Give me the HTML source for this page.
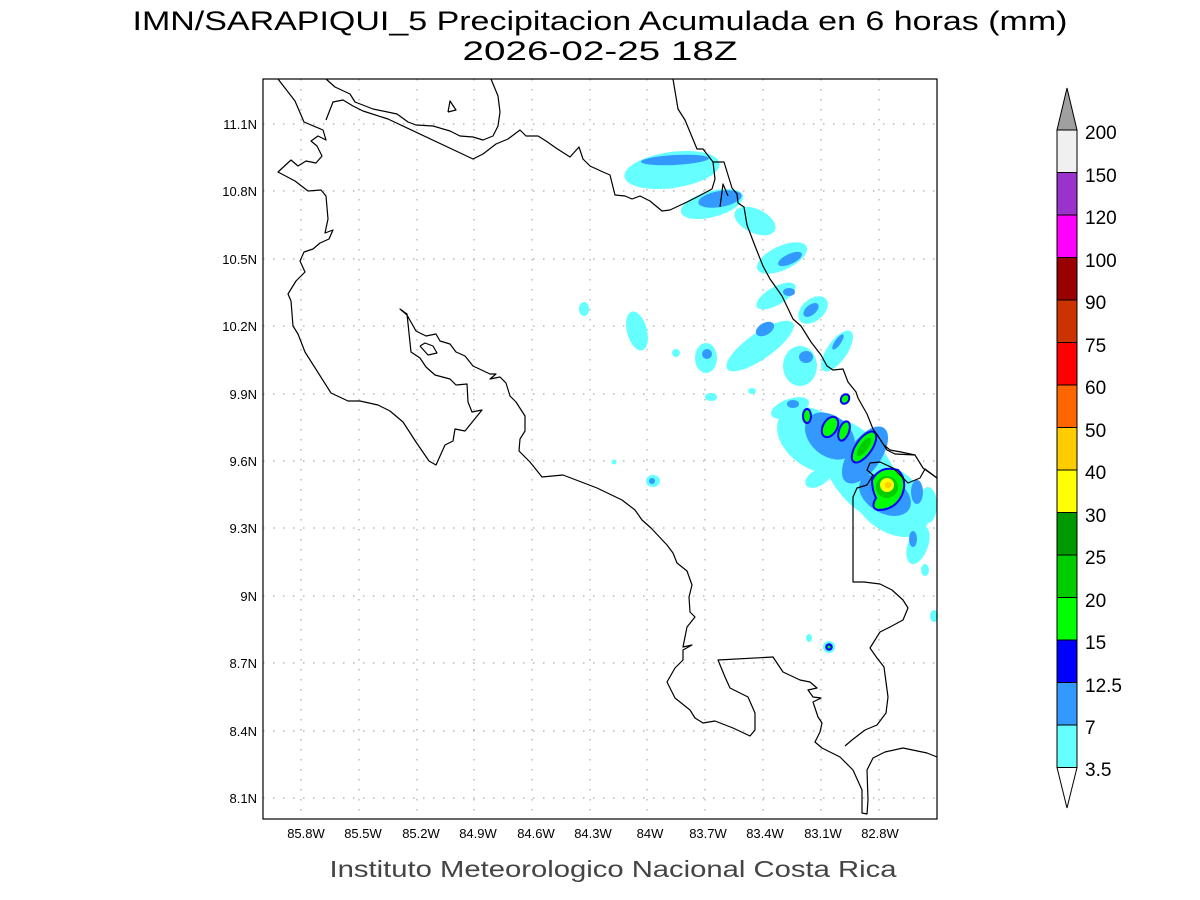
<!DOCTYPE html>
<html><head><meta charset="utf-8"><style>
html,body{margin:0;padding:0;background:#fff;}
svg{display:block;}
text{font-family:"Liberation Sans",sans-serif;fill:#000;}
</style></head><body>
<svg width="1200" height="900" viewBox="0 0 1200 900" xmlns="http://www.w3.org/2000/svg">
<rect width="1200" height="900" fill="#fff"/>
<text x="600" y="30" font-size="27" text-anchor="middle" textLength="935" lengthAdjust="spacingAndGlyphs">IMN/SARAPIQUI_5 Precipitacion Acumulada en 6 horas (mm)</text>
<text x="600" y="60" font-size="27" text-anchor="middle" textLength="275" lengthAdjust="spacingAndGlyphs">2026-02-25 18Z</text>

<g stroke="#aaa" stroke-width="1.2" stroke-dasharray="1.5,8.5">
<line x1="301" y1="79" x2="301" y2="819"/><line x1="359" y1="79" x2="359" y2="819"/><line x1="417" y1="79" x2="417" y2="819"/><line x1="474" y1="79" x2="474" y2="819"/><line x1="532" y1="79" x2="532" y2="819"/><line x1="590" y1="79" x2="590" y2="819"/><line x1="647" y1="79" x2="647" y2="819"/><line x1="705" y1="79" x2="705" y2="819"/><line x1="763" y1="79" x2="763" y2="819"/><line x1="821" y1="79" x2="821" y2="819"/><line x1="879" y1="79" x2="879" y2="819"/>
<line x1="263" y1="124" x2="937" y2="124"/><line x1="263" y1="191" x2="937" y2="191"/><line x1="263" y1="259" x2="937" y2="259"/><line x1="263" y1="326" x2="937" y2="326"/><line x1="263" y1="394" x2="937" y2="394"/><line x1="263" y1="461" x2="937" y2="461"/><line x1="263" y1="528" x2="937" y2="528"/><line x1="263" y1="596" x2="937" y2="596"/><line x1="263" y1="663" x2="937" y2="663"/><line x1="263" y1="731" x2="937" y2="731"/><line x1="263" y1="798" x2="937" y2="798"/>
</g>

<g>
<g fill="#66FFFF">
<ellipse cx="672" cy="170" rx="48" ry="18" transform="rotate(-8 672 170)"/>
<ellipse cx="712" cy="204" rx="32" ry="13" transform="rotate(-15 712 204)"/>
<ellipse cx="755" cy="221" rx="22" ry="12" transform="rotate(25 755 221)"/>
<ellipse cx="782" cy="258" rx="27" ry="12" transform="rotate(-25 782 258)"/>
<ellipse cx="776" cy="296" rx="22" ry="9" transform="rotate(-30 776 296)"/>
<ellipse cx="813" cy="310" rx="17" ry="11" transform="rotate(-40 813 310)"/>
<ellipse cx="637" cy="331" rx="10" ry="20" transform="rotate(-15 637 331)"/>
<ellipse cx="760" cy="346" rx="40" ry="13" transform="rotate(-35 760 346)"/>
<ellipse cx="800" cy="366" rx="17" ry="20"/>
<ellipse cx="837" cy="351" rx="10" ry="24" transform="rotate(35 837 351)"/>
<ellipse cx="706" cy="358" rx="11" ry="15"/>
<ellipse cx="676" cy="353" rx="4" ry="4"/>
<ellipse cx="711" cy="397" rx="6" ry="4"/>
<ellipse cx="752" cy="391" rx="4" ry="3"/>
<ellipse cx="815" cy="440" rx="42" ry="28" transform="rotate(35 815 440)"/>
<ellipse cx="790" cy="408" rx="20" ry="9" transform="rotate(-20 790 408)"/>
<ellipse cx="818" cy="478" rx="14" ry="8" transform="rotate(-30 818 478)"/>
<ellipse cx="860" cy="470" rx="30" ry="58" transform="rotate(-35 860 470)"/>
<ellipse cx="890" cy="500" rx="45" ry="30" transform="rotate(40 890 500)"/>
<ellipse cx="918" cy="545" rx="10" ry="20" transform="rotate(20 918 545)"/>
<ellipse cx="925" cy="570" rx="4" ry="6"/>
<ellipse cx="934" cy="616" rx="4" ry="6"/>
<ellipse cx="829" cy="647" rx="6" ry="6"/>
<ellipse cx="809" cy="638" rx="3" ry="4"/>
<ellipse cx="653" cy="481" rx="7" ry="6"/>
<ellipse cx="614" cy="462" rx="2.5" ry="2.5"/>
<ellipse cx="584" cy="309" rx="5" ry="7"/>
<ellipse cx="928" cy="505" rx="9" ry="18"/>
</g>
<g fill="#3399FF">
<ellipse cx="675" cy="160" rx="34" ry="5" transform="rotate(-3 675 160)"/>
<ellipse cx="720" cy="199" rx="22" ry="8" transform="rotate(-10 720 199)"/>
<ellipse cx="790" cy="259" rx="13" ry="5" transform="rotate(-25 790 259)"/>
<ellipse cx="789" cy="292" rx="6" ry="4"/>
<ellipse cx="811" cy="310" rx="9" ry="5" transform="rotate(-40 811 310)"/>
<ellipse cx="765" cy="329" rx="10" ry="6" transform="rotate(-30 765 329)"/>
<ellipse cx="806" cy="357" rx="7" ry="6"/>
<ellipse cx="838" cy="342" rx="3" ry="9" transform="rotate(35 838 342)"/>
<ellipse cx="707" cy="354" rx="5" ry="5"/>
<ellipse cx="830" cy="436" rx="28" ry="20" transform="rotate(40 830 436)"/>
<ellipse cx="865" cy="455" rx="16" ry="33" transform="rotate(35 865 455)"/>
<ellipse cx="885" cy="495" rx="28" ry="18" transform="rotate(30 885 495)"/>
<ellipse cx="917" cy="492" rx="6" ry="12"/>
<ellipse cx="913" cy="539" rx="4" ry="8"/>
<ellipse cx="829" cy="647" rx="4" ry="4"/>
<ellipse cx="652" cy="481" rx="3" ry="3"/>
<ellipse cx="793" cy="404" rx="6" ry="4"/>
</g>
<g fill="#00FF00" stroke="#0000FF" stroke-width="2">
<ellipse cx="807" cy="416" rx="4" ry="7"/>
<ellipse cx="830" cy="427" rx="7" ry="11" transform="rotate(30 830 427)"/>
<ellipse cx="844" cy="431" rx="5" ry="10" transform="rotate(20 844 431)"/>
<ellipse cx="845" cy="399" rx="4" ry="5" transform="rotate(30 845 399)"/>
<ellipse cx="864" cy="447" rx="8" ry="18" transform="rotate(35 864 447)"/>
<path d="M872 480 Q880 465 898 470 Q908 480 902 495 Q895 510 878 510 Q870 508 876 498 Q872 490 872 480 Z"/>
<ellipse cx="829" cy="647" rx="2.5" ry="2.5"/>
</g>
<g fill="#00CC00">
<ellipse cx="864" cy="447" rx="4" ry="11" transform="rotate(35 864 447)"/>
<ellipse cx="887" cy="487" rx="11" ry="11"/>
</g>
<ellipse cx="887" cy="485" rx="7" ry="7" fill="#FFFF00"/>
<ellipse cx="888" cy="485" rx="3.5" ry="3" fill="#FFCC00"/>
</g>

<g fill="none" stroke="#000" stroke-width="1.2" stroke-linejoin="round">
<polyline points="278,79 295,101 304,122 323,130 326,140 318,136 311,141 317,146 322,156 316,163 306,161 298,166 291,160 278,172 295,181 308,191 321,190 326,196 328,219 325,233 333,230 329,239 320,243 313,249 304,252 300,261 305,272 296,281 288,294 291,301 293,326 298,334 305,352 331,393 348,401 360,401 378,405 390,411 403,422 416,442 429,461 436,465 445,445 453,441 455,429 465,431 482,410 472,412 468,402 467,384 456,385 450,379 435,375 426,367 420,358 411,352 407,314 400,309 407,315 416,331 426,336 436,334 440,341 450,344 456,352 465,356 473,366 490,374 496,374 490,379 500,377 506,383 510,396 516,402 525,416 525,431 520,439 519,451 530,462 542,477 563,475 597,488 622,500 635,510 642,520 651,528 667,545 673,553 677,563 687,571 692,585 689,597 690,612 695,617 687,627 683,647 692,645 683,650 683,660 675,668 667,682 675,698 690,710 695,718 703,723 715,721 733,728 750,736 755,730 755,713 748,697 730,688 725,677 718,660 773,657 783,672 800,680 810,682 817,688 808,690 813,697 821,698 813,702 818,717 822,723 820,732 815,742 822,748 840,757 853,770 862,790 862,813 867,814 868,800 867,770 873,758 885,752 903,748 927,753 937,757"/>
<polyline points="845,746 852,740 865,730 877,725 886,713 888,697 884,667 877,658 870,648 880,632 890,627 903,620 908,608 903,600 892,590 880,584 864,582 853,582 853,497 857,488 867,485 873,475 867,470 870,463 880,462 893,468 903,478 908,483 920,478 925,469 937,478"/>
<polyline points="884,445 890,450 901,452 915,455 923,468 937,478"/>
<polyline points="326,120 333,102 343,100 353,106 363,111 388,119 473,159 483,154 496,144 508,139 520,130 526,136 538,136 546,141 556,148 570,157 579,147 583,159 590,166 603,172 610,175 615,195 625,196 632,199 640,196 650,201 662,211 670,210 687,202 697,197 712,189 715,179 713,162 703,149 697,149 685,120 678,109 673,79"/>
<polyline points="713,162 724,162 732,188 737,194 738,203 744,207 747,225 755,246 763,266 770,279 782,296 793,319 801,326 811,342 821,355 827,366 833,370 843,369 848,382 856,392 858,398 867,414 873,429 878,436 887,450 895,454 915,455"/>
<polyline points="720,207 723,184 728,196"/>
<polyline points="326,79 335,87 350,94 355,102 373,109 397,114 408,122 416,125 433,126 450,131 460,136 473,137 483,140 493,136 498,126 500,112 498,96 491,79"/>
<polyline points="448,112 450,101 456,110 448,112"/>
<polyline points="420,346 425,343 433,346 437,353 428,355 420,346"/>
</g>

<rect x="263" y="79" width="674" height="740" fill="none" stroke="#000" stroke-width="1.2"/>

<g font-size="13" text-anchor="end">
<text x="257" y="129">11.1N</text><text x="257" y="196">10.8N</text><text x="257" y="264">10.5N</text><text x="257" y="331">10.2N</text><text x="257" y="399">9.9N</text><text x="257" y="466">9.6N</text><text x="257" y="533">9.3N</text><text x="257" y="601">9N</text><text x="257" y="668">8.7N</text><text x="257" y="736">8.4N</text><text x="257" y="803">8.1N</text>
</g>
<g font-size="13" text-anchor="middle">
<text x="306" y="838">85.8W</text><text x="363" y="838">85.5W</text><text x="421" y="838">85.2W</text><text x="478" y="838">84.9W</text><text x="536" y="838">84.6W</text><text x="593" y="838">84.3W</text><text x="650" y="838">84W</text><text x="708" y="838">83.7W</text><text x="765" y="838">83.4W</text><text x="823" y="838">83.1W</text><text x="880" y="838">82.8W</text>
</g>

<text x="613" y="877" font-size="23" text-anchor="middle" textLength="567" lengthAdjust="spacingAndGlyphs" style="fill:#444">Instituto Meteorologico Nacional Costa Rica</text>

<g stroke="#000" stroke-width="1">
<polygon points="1057,130 1077,130 1067,88" fill="#A0A0A0"/>
<rect x="1057" y="130" width="20" height="42.5" fill="#F0F0F0"/>
<rect x="1057" y="172.5" width="20" height="42.5" fill="#9933CC"/>
<rect x="1057" y="215" width="20" height="42.5" fill="#FF00FF"/>
<rect x="1057" y="257.5" width="20" height="42.5" fill="#990000"/>
<rect x="1057" y="300" width="20" height="42.5" fill="#CC3300"/>
<rect x="1057" y="342.5" width="20" height="42.5" fill="#FF0000"/>
<rect x="1057" y="385" width="20" height="42.5" fill="#FF6600"/>
<rect x="1057" y="427.5" width="20" height="42.5" fill="#FFCC00"/>
<rect x="1057" y="470" width="20" height="42.5" fill="#FFFF00"/>
<rect x="1057" y="512.5" width="20" height="42.5" fill="#009900"/>
<rect x="1057" y="555" width="20" height="42.5" fill="#00CC00"/>
<rect x="1057" y="597.5" width="20" height="42.5" fill="#00FF00"/>
<rect x="1057" y="640" width="20" height="42.5" fill="#0000FF"/>
<rect x="1057" y="682.5" width="20" height="42.5" fill="#3399FF"/>
<rect x="1057" y="725" width="20" height="42.5" fill="#66FFFF"/>
<polygon points="1057,767.5 1077,767.5 1067,808" fill="#fff"/>
</g>
<g font-size="19">
<text x="1085" y="139">200</text><text x="1085" y="182">150</text><text x="1085" y="224">120</text><text x="1085" y="267">100</text><text x="1085" y="309">90</text><text x="1085" y="352">75</text><text x="1085" y="394">60</text><text x="1085" y="437">50</text><text x="1085" y="479">40</text><text x="1085" y="522">30</text><text x="1085" y="564">25</text><text x="1085" y="607">20</text><text x="1085" y="649">15</text><text x="1085" y="692">12.5</text><text x="1085" y="734">7</text><text x="1085" y="776">3.5</text>
</g>
</svg>
</body></html>
